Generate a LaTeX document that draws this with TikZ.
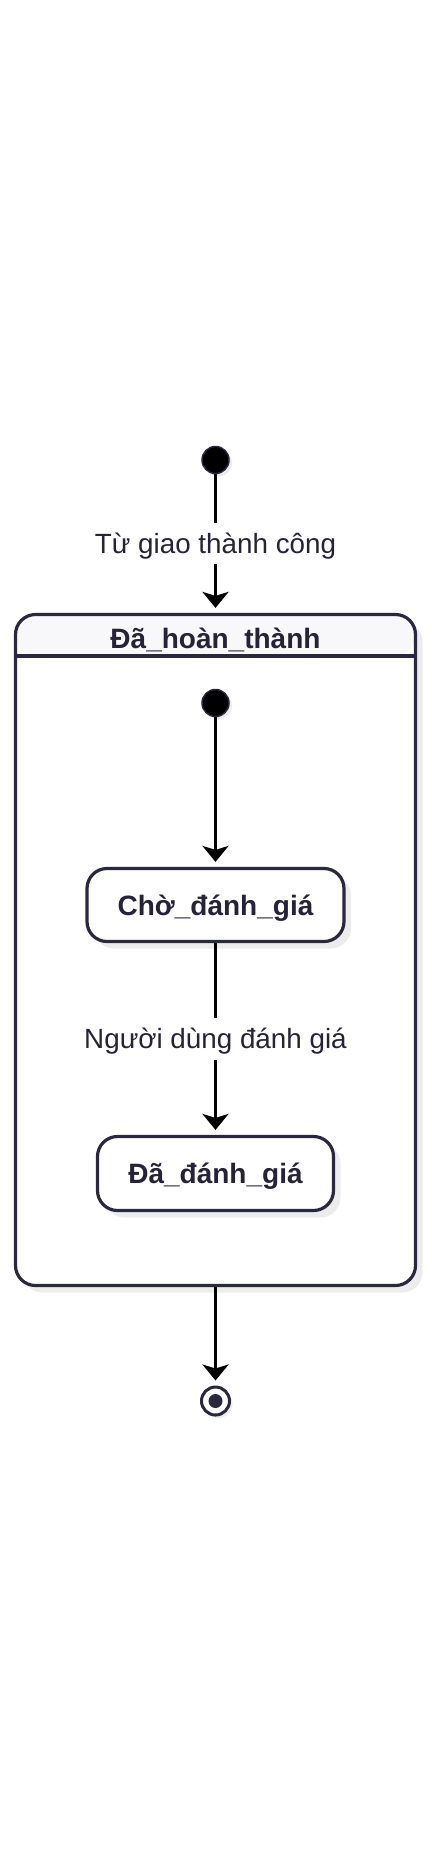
\documentclass[tikz,border=0pt]{standalone}
\usepackage{fontspec}
\setmainfont{Liberation Sans}
\usetikzlibrary{arrows.meta,shadows}
\definecolor{ink}{HTML}{2A283E}
\definecolor{txt}{HTML}{262338}
\definecolor{headfill}{HTML}{F8F8FA}
\definecolor{shade}{HTML}{ECECEC}
\begin{document}
\begin{tikzpicture}[x=1pt,y=-1pt,
  bigtext/.style={font=\fontsize{27.8}{32}\selectfont},
  softshadow/.style={drop shadow={shadow xshift=7pt,shadow yshift=-7pt,fill=shade,opacity=1}},
  smallshadow/.style={drop shadow={shadow xshift=3pt,shadow yshift=-3pt,fill=shade,opacity=1}},
  initstate/.style={circle,draw=ink,line width=1.5pt,fill=black,minimum size=27pt,inner sep=0pt,smallshadow},
  statebox/.style={rectangle,rounded corners=20pt,draw=ink,line width=3.2pt,fill=white,
    font=\fontsize{28}{32}\selectfont\bfseries,text=txt,inner sep=0pt,
    text height=20pt,text depth=0pt,softshadow},
  trans/.style={draw=black,line width=3.5pt,-{Stealth[length=16pt,width=26pt,inset=4pt]},shorten >=5pt},
  elabel/.style={fill=white,text=txt,bigtext,inner xsep=2pt,inner ysep=11pt,text height=19.8pt,text depth=0pt}
]
\useasboundingbox (0,0) rectangle (431,1860);

% composite state
\node (comp) [rectangle,rounded corners=20pt,draw=ink,line width=3.2pt,fill=white,
  minimum width=400pt,minimum height=671pt,inner sep=0pt,softshadow,
  path picture={
    \fill[headfill] (path picture bounding box.north west) rectangle ([yshift=-41.5pt]path picture bounding box.north east);
    \draw[ink,line width=3.2pt] ([yshift=-41.5pt]path picture bounding box.north west) -- ([yshift=-41.5pt]path picture bounding box.north east);
  }] at (215.5,950) {};
\node (comptitle) [anchor=base,text=txt,font=\fontsize{28}{32}\selectfont\bfseries,inner sep=0pt] at (215.5,648.5) {Đã\_hoàn\_thành};

% outer initial state
\node (init) [initstate] at (215.5,460) {};

% inner initial state
\node (init2) [initstate] at (215.5,703) {};

% inner states
\node (cho) [statebox,minimum width=257pt,minimum height=73pt] at (215.5,905) {Chờ\_đánh\_giá};
\node (da) [statebox,minimum width=236pt,minimum height=74pt] at (215.5,1173.5) {Đã\_đánh\_giá};

% final state
\node (fin) [circle,draw=ink,line width=3pt,fill=white,minimum size=28pt,inner sep=0pt,smallshadow] at (215.5,1401) {};
\node (findot) [circle,fill=ink,minimum size=14pt,inner sep=0pt] at (fin.center) {};

% transitions
\draw[trans] (init) -- node[elabel] {Từ giao thành công} (comp.north);
\draw[trans] (init2) -- (cho);
\draw[trans] (cho) -- node[elabel] {Người dùng đánh giá} (da);
\draw[trans] (comp.south) -- (fin);
\end{tikzpicture}
\end{document}
